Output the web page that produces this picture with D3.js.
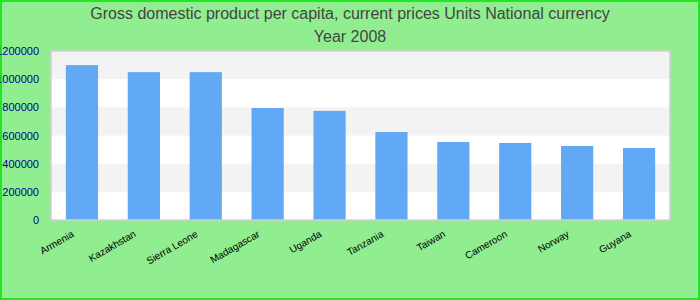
<!DOCTYPE html>
<html lang="en">
<head>
    <meta charset="UTF-8">
    <title>GDP per capita 2008</title>
    <script src="https://cdnjs.cloudflare.com/ajax/libs/d3/7.8.5/d3.min.js"></script>
    <style>
        body { margin: 0; background: #90ee90; }
        svg { display: block; font-family: "Liberation Sans", Arial, sans-serif; }
    </style>
</head>
<body>
    <svg id="chart" width="700" height="300"></svg>

    <script>
        // Data
        const countries = ["Armenia", "Kazakhstan", "Sierra Leone", "Madagascar", "Uganda",
                           "Tanzania", "Taiwan", "Cameroon", "Norway", "Guyana"];
        const gdpValues = [1100000, 1050000, 1050000, 795000, 775000,
                           625000, 554000, 547000, 526000, 511000];
        const yTicks = [0, 200000, 400000, 600000, 800000, 1000000, 1200000];
        const titleLines = ["Gross domestic product per capita, current prices Units National currency", "Year 2008"];

        const width = 700, height = 300;
        const margin = { top: 51, right: 30, bottom: 80, left: 51 };
        const innerW = width - margin.left - margin.right;
        const innerH = height - margin.top - margin.bottom;

        const svg = d3.select("#chart");

        // background + outer border
        svg.append("rect")
            .attr("x", 1).attr("y", 1)
            .attr("width", width - 2).attr("height", height - 2)
            .attr("fill", "#90ee90")
            .attr("stroke", "#22e622")
            .attr("stroke-width", 2);

        // Title
        svg.selectAll("text.title")
            .data(titleLines)
            .enter()
            .append("text")
            .attr("class", "title")
            .attr("x", width / 2)
            .attr("y", (d, i) => 19 + i * 23)
            .attr("text-anchor", "middle")
            .attr("font-size", "16px")
            .attr("fill", "#444")
            .text(d => d);

        const g = svg.append("g")
            .attr("transform", `translate(${margin.left},${margin.top})`);

        const x = d3.scaleBand()
            .domain(countries)
            .range([0, innerW])
            .paddingInner(0.48)
            .paddingOuter(0.24);

        const y = d3.scaleLinear()
            .domain([0, 1200000])
            .range([innerH, 0]);

        // plot background with alternating bands
        g.append("rect")
            .attr("width", innerW).attr("height", innerH)
            .attr("fill", "#fff");

        g.selectAll("rect.band")
            .data(d3.pairs(yTicks).filter((d, i) => i % 2 === 1))
            .enter()
            .append("rect")
            .attr("class", "band")
            .attr("x", 0)
            .attr("width", innerW)
            .attr("y", d => y(d[1]))
            .attr("height", d => y(d[0]) - y(d[1]))
            .attr("fill", "#f3f3f3");

        // bars
        g.selectAll("rect.bar")
            .data(countries)
            .enter()
            .append("rect")
            .attr("class", "bar")
            .attr("x", d => x(d))
            .attr("width", x.bandwidth())
            .attr("y", (d, i) => y(gdpValues[i]))
            .attr("height", (d, i) => innerH - y(gdpValues[i]))
            .attr("fill", "#61a8f5");

        // plot border
        g.append("rect")
            .attr("width", innerW).attr("height", innerH)
            .attr("fill", "none")
            .attr("stroke", "#d0d0d0")
            .attr("stroke-width", 1.5);

        // y axis (labels run past the left edge, as in the original)
        const yAxis = g.append("g")
            .call(d3.axisLeft(y).tickValues(yTicks).tickSize(0).tickPadding(12).tickFormat(d3.format("d")));
        yAxis.select(".domain").remove();
        yAxis.selectAll("text")
            .attr("font-size", "11px")
            .attr("font-family", "Liberation Sans, Arial, sans-serif")
            .attr("fill", "#00008b");

        // x axis labels
        const xAxis = g.append("g")
            .attr("transform", `translate(0,${innerH})`)
            .call(d3.axisBottom(x).tickSize(0).tickPadding(0));
        xAxis.select(".domain").remove();
        xAxis.selectAll("text")
            .attr("font-size", "10px")
            .attr("font-family", "Liberation Sans, Arial, sans-serif")
            .attr("fill", "#000")
            .attr("text-anchor", "end")
            .attr("transform", "translate(-9,13) rotate(-30)")
            .attr("dy", "0.35em");
    </script>
</body>
</html>
